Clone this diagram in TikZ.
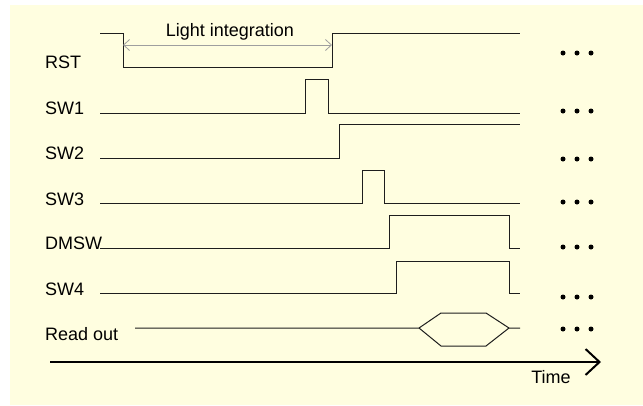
\documentclass[tikz,border=0pt]{standalone}
\usepackage{fontspec}
\setmainfont{Liberation Sans}
\usetikzlibrary{arrows.meta}
\definecolor{bgc}{RGB}{255,254,224}
\definecolor{wave}{RGB}{30,30,30}
\begin{document}
\begin{tikzpicture}[x=1pt,y=-1pt,
  lbl/.style={anchor=west,inner sep=0pt,font=\fontsize{18}{21}\selectfont},
  sig/.style={draw=wave,line width=1pt},
  dotc/.style={fill=black,circle,inner sep=0pt,minimum size=5pt}]
\useasboundingbox (0,0) rectangle (643,405);
\fill[bgc] (10,5) rectangle (643,405);
% labels
\node[lbl] (lrst) at (45,62) {RST};
\node[lbl] (lsw1) at (45,108) {SW1};
\node[lbl] (lsw2) at (45,153) {SW2};
\node[lbl] (lsw3) at (45,199) {SW3};
\node[lbl] (ldmsw) at (45,243) {DMSW};
\node[lbl] (lsw4) at (45,289) {SW4};
\node[lbl] (lread) at (45,334) {Read out};
% waveforms
\draw[sig] (100,33) -- (123,33) -- (123,67) -- (332,67) -- (332,33) -- (520,33);
\draw[sig] (100,113) -- (305,113) -- (305,79) -- (328,79) -- (328,113) -- (520,113);
\draw[sig] (100,158) -- (339,158) -- (339,124) -- (520,124);
\draw[sig] (100,203) -- (362,203) -- (362,170) -- (384,170) -- (384,203) -- (520,203);
\draw[sig] (100,248) -- (389,248) -- (389,215) -- (509,215) -- (509,248) -- (520,248);
\draw[sig] (100,293) -- (396,293) -- (396,261) -- (509,261) -- (509,293) -- (520,293);
\draw[sig] (135,328) -- (419,328) -- (441,313) -- (486,313) -- (509,328) -- (520,328);
\draw[sig] (419,328) -- (441,346) -- (486,346) -- (509,328);
% light integration
\coordinate (li1) at (123,45);
\coordinate (li2) at (332,45);
\draw[gray!75,line width=0.8pt,{Straight Barb[length=6pt,width=11pt]}-{Straight Barb[length=6pt,width=11pt]}] (li1) -- (li2);
\node[lbl,anchor=center] (ltxt) at (230,32) {Light integration};
% time axis
\coordinate (t1) at (50,362);
\coordinate (t2) at (601,362);
\draw[line width=2pt,-{Straight Barb[length=14pt,width=26pt]}] (t1) -- (t2);
\node[lbl,anchor=center] (ltime) at (551,377) {Time};
% dots
\foreach \y [count=\i] in {53,111,159,202,247,297,329}{
  \node[dotc] (da\i) at (563,\y) {};
  \node[dotc] (db\i) at (577,\y) {};
  \node[dotc] (dc\i) at (591,\y) {};
}
\end{tikzpicture}
\end{document}
